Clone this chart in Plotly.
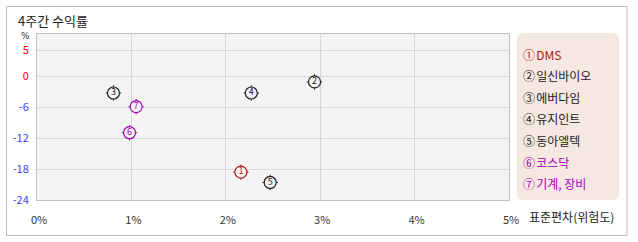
import plotly.graph_objects as go

# ---- data ----
names = ["DMS", "일신바이오", "에버다임", "유지인트", "동아엘텍", "코스닥", "기계, 장비"]
marks = ["①", "②", "③", "④", "⑤", "⑥", "⑦"]
digits = ["1", "2", "3", "4", "5", "6", "7"]
risk = [2.16, 2.94, 0.81, 2.27, 2.47, 0.98, 1.05]      # 표준편차 (%)
ret = [-18.6, -1.1, -3.24, -3.24, -20.6, -10.95, -5.9]  # 4주간 수익률 (%)
colors = ["#b01818", "#222222", "#222222", "#222222", "#222222", "#a400b4", "#a400b4"]

x_ticks = [0, 1, 2, 3, 4, 5]
x_labels = ["0%", "1%", "2%", "3%", "4%", "5%"]
y_ticks = [5, 0, -6, -12, -18, -24]
y_colors = ["#ff0000", "#ff0000", "#4040ff", "#4040ff", "#4040ff", "#4040ff"]

FONT = "Noto Sans CJK KR"
W, H = 638, 242
L, R, T, B = 37, 509, 34, 200  # plot area in pixels

def px(x):
    return (x - L) / (R - L)

def py(y):
    return (B - y) / (B - T)

fig = go.Figure()

# tick crosses behind circles
fig.add_trace(go.Scatter(
    x=risk, y=ret, mode="markers",
    marker=dict(symbol="cross-thin-open", size=11, color=colors, line=dict(color=colors, width=1)),
    hoverinfo="skip", showlegend=False,
))
# circles with digits
fig.add_trace(go.Scatter(
    x=risk, y=ret, mode="markers+text",
    marker=dict(symbol="circle", size=12, color="#f4f4f4", line=dict(color=colors, width=1.2)),
    text=digits, textposition="middle center",
    textfont=dict(family=FONT, size=9, color=colors),
    hovertext=names, showlegend=False,
))

ticktext_y = [f'<span style="color:{c}">{v}</span>' for v, c in zip(y_ticks, y_colors)]

fig.update_layout(
    width=W, height=H,
    margin=dict(l=L, r=W - R, t=T, b=H - B, pad=0),
    paper_bgcolor="white", plot_bgcolor="#f4f4f4",
    font=dict(family=FONT, size=11, color="#333333"),
    xaxis=dict(
        range=[0, 5], tickvals=x_ticks, ticktext=x_labels,
        showgrid=True, gridcolor="#d8d8d8", gridwidth=1, zeroline=False,
        showline=True, linecolor="#c0c0c0", linewidth=1, mirror=True,
        ticks="outside", ticklen=10, tickcolor="rgba(0,0,0,0)",
        ticklabelshift=2,
        tickfont=dict(family=FONT, size=11, color="#333333"),
        fixedrange=True,
    ),
    yaxis=dict(
        range=[-24, 8.2], tickvals=y_ticks, ticktext=ticktext_y,
        showgrid=True, gridcolor="#d8d8d8", gridwidth=1, zeroline=False,
        showline=True, linecolor="#c0c0c0", linewidth=1, mirror=True,
        ticks="outside", ticklen=5, tickcolor="rgba(0,0,0,0)",
        tickfont=dict(family=FONT, size=11),
        fixedrange=True,
    ),
)

shapes = []
# outer frame
shapes.append(dict(type="rect", xref="paper", yref="paper",
                   x0=px(6.5), x1=px(627), y0=py(6.5), y1=py(235.5),
                   line=dict(color="#bbbbbb", width=1), fillcolor="rgba(0,0,0,0)", layer="below"))
# legend box (rounded)
lx0, lx1, ly0, ly1, r = 517, 619, 33, 200, 7
def P(x, y):
    return f"{px(x):.5f},{py(y):.5f}"
path = (f"M {P(lx0 + r, ly0)} L {P(lx1 - r, ly0)} Q {P(lx1, ly0)} {P(lx1, ly0 + r)} "
        f"L {P(lx1, ly1 - r)} Q {P(lx1, ly1)} {P(lx1 - r, ly1)} "
        f"L {P(lx0 + r, ly1)} Q {P(lx0, ly1)} {P(lx0, ly1 - r)} "
        f"L {P(lx0, ly0 + r)} Q {P(lx0, ly0)} {P(lx0 + r, ly0)} Z")
shapes.append(dict(type="path", xref="paper", yref="paper", path=path,
                   fillcolor="#f5e8e0", line=dict(width=0), layer="below"))
fig.update_layout(shapes=shapes)

ann = []
ann.append(dict(text="4주간 수익률", xref="paper", yref="paper", x=px(16), y=py(20),
                xanchor="left", yanchor="middle", showarrow=False,
                font=dict(family=FONT, size=13, color="#222222")))
ann.append(dict(text="%", xref="paper", yref="paper", x=px(25.5), y=py(36.5),
                xanchor="center", yanchor="middle", showarrow=False,
                font=dict(family="DejaVu Sans", size=9, color="#333333")))
ann.append(dict(text="표준편차(위험도)", xref="paper", yref="paper", x=px(527), y=py(216.5),
                xanchor="left", yanchor="middle", showarrow=False,
                font=dict(family=FONT, size=12, color="#222222")))
leg_y0, leg_dy = 54.3, 21.55
for i, (m, n, c) in enumerate(zip(marks, names, colors)):
    ann.append(dict(text=f'{m}<span style="font-size:5px"> </span>{n}', xref="paper", yref="paper",
                    x=px(521), y=py(leg_y0 + i * leg_dy),
                    xanchor="left", yanchor="middle", showarrow=False,
                    font=dict(family=FONT, size=12, color=c)))
fig.update_layout(annotations=ann)

fig.write_html("out.html")
